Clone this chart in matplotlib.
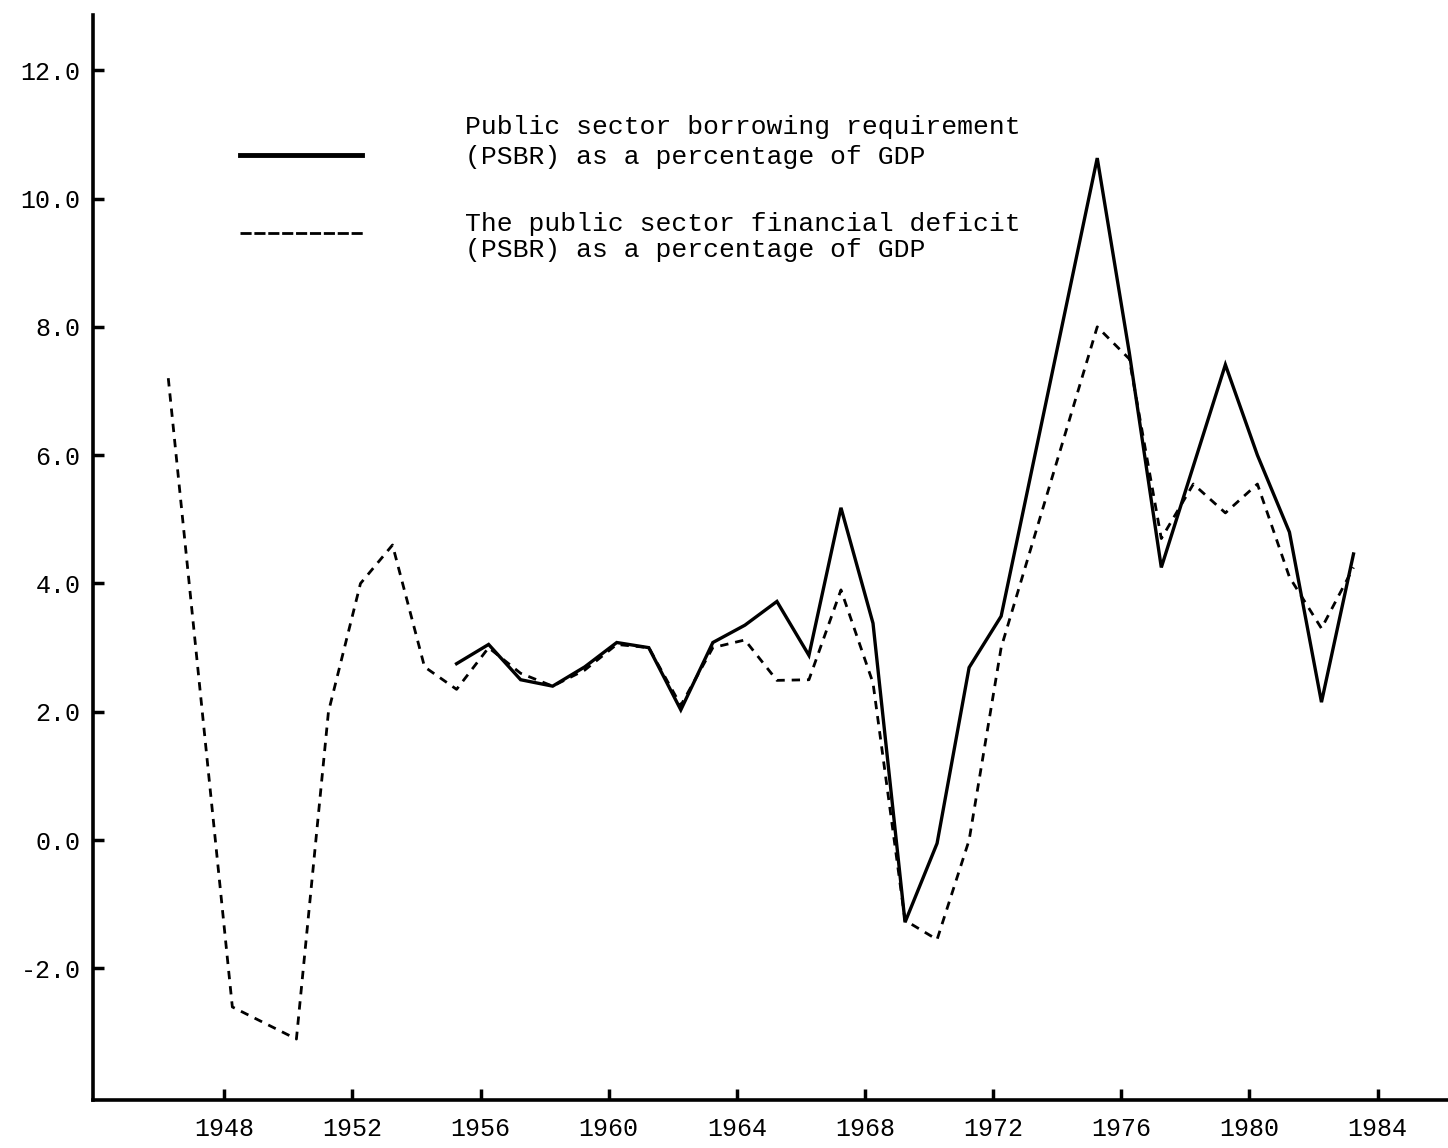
import numpy as np
import matplotlib.pyplot as plt
from matplotlib.lines import Line2D

# values (% of GDP)
psbr_years = [1955, 1956, 1957, 1958, 1959, 1960, 1961, 1962, 1963, 1964, 1965, 1966, 1967,
              1968, 1969, 1970, 1971, 1972, 1975, 1976, 1977, 1979, 1980, 1981, 1982, 1983]
psbr = [2.75, 3.05, 2.5, 2.4, 2.7, 3.08, 3.0, 2.03, 3.08, 3.35, 3.72, 2.88, 5.18,
        3.38, -1.28, -0.05, 2.69, 3.49, 10.63, 7.6, 4.25, 7.41, 6.0, 4.8, 2.15, 4.46]

psfd_years = [1946, 1948, 1950, 1951, 1952, 1953, 1954, 1955, 1956, 1957, 1958, 1959, 1960,
              1961, 1962, 1963, 1964, 1965, 1966, 1967, 1968, 1969, 1970, 1971, 1972, 1975,
              1976, 1977, 1978, 1979, 1980, 1981, 1982, 1983]
psfd = [7.2, -2.6, -3.1, 2.0, 4.0, 4.6, 2.7, 2.35, 3.0, 2.6, 2.4, 2.65, 3.05,
        3.0, 2.1, 3.0, 3.12, 2.49, 2.5, 3.9, 2.45, -1.25, -1.55, 0.0, 3.0, 8.0,
        7.5, 4.7, 5.55, 5.1, 5.55, 4.1, 3.3, 4.25]

x_ticks = [1948, 1952, 1956, 1960, 1964, 1968, 1972, 1976, 1980, 1984]
y_ticks = [-2, 0, 2, 4, 6, 8, 10, 12]
y_labels = ["-2.0", "0.0", "2.0", "4.0", "6.0", "8.0", "10.0", "12.0"]

label_psbr = ["Public sector borrowing requirement", "(PSBR) as a percentage of GDP"]
label_psfd = ["The public sector financial deficit", "(PSBR) as a percentage of GDP"]

plt.rcParams['font.family'] = ['Liberation Mono', 'DejaVu Sans Mono']
plt.rcParams['axes.unicode_minus'] = False

W, H = 1448, 1148
fig = plt.figure(figsize=(W / 100, H / 100), dpi=100)
ax = fig.add_axes([93 / W, 48 / H, 1 - 93 / W, (1133 - 48) / H])

# points sit a little to the right of their year tick in the original
shift = 0.25
ax.plot(np.array(psbr_years) + shift, psbr, color='black', lw=2.4, solid_joinstyle='miter')
ax.plot(np.array(psfd_years) + shift, psfd, color='black', lw=2.0, ls=(0, (3, 2.5)))

ax.set_xlim(1943.9, 1986.2)
ax.set_ylim(-4.05, 12.86)

ax.set_xticks(x_ticks)
ax.set_xticklabels([str(y) for y in x_ticks])
ax.set_yticks(y_ticks)
ax.set_yticklabels(y_labels)
ax.tick_params(axis='both', direction='in', length=8, width=2.5, labelsize=18, colors='black')
ax.tick_params(axis='x', pad=12)
ax.tick_params(axis='y', pad=9)

for side in ['top', 'right']:
    ax.spines[side].set_visible(False)
for side in ['left', 'bottom']:
    ax.spines[side].set_linewidth(2.6)

# hand-made legend
def fx(px):
    return px / W

def fy(py):
    return 1 - py / H

fig.add_artist(Line2D([fx(240), fx(362)], [fy(155), fy(155)], color='black', lw=3.5))
fig.add_artist(Line2D([fx(240), fx(365)], [fy(233), fy(233)], color='black', lw=2.0,
                      ls=(0, (4, 1))))
fig.text(fx(465), fy(142), "\n".join(label_psbr), fontsize=19, va='center', ha='left',
         linespacing=1.32)
fig.text(fx(465), fy(237), "\n".join(label_psfd), fontsize=19, va='center', ha='left',
         linespacing=1.15)

fig.savefig('out.png', dpi=100)
